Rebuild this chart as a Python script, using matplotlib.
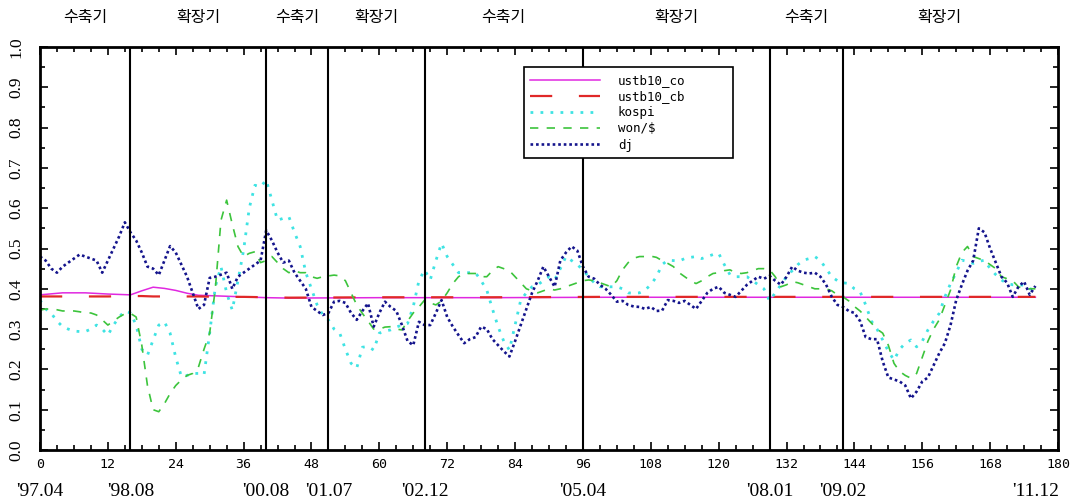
import matplotlib
matplotlib.use("Agg")
import matplotlib.pyplot as plt
from matplotlib.ticker import MultipleLocator
import matplotlib.transforms as mtransforms

# Monthly correlation coefficients, '97.04 (month 0) to '11.12 (month 176)
months = list(range(177))

dj = [
    0.48, 0.47, 0.45, 0.44, 0.455, 0.465, 0.475, 0.485, 0.48, 0.475,
    0.47, 0.44, 0.47, 0.50, 0.53, 0.565, 0.54, 0.52, 0.49, 0.455,
    0.45, 0.434, 0.47, 0.506, 0.49, 0.46, 0.43, 0.39, 0.35, 0.36,
    0.427, 0.43, 0.435, 0.44, 0.40, 0.43, 0.44, 0.45, 0.46, 0.47,
    0.545, 0.52, 0.49, 0.465, 0.47, 0.44, 0.42, 0.40, 0.355, 0.345,
    0.335, 0.34, 0.368, 0.37, 0.365, 0.34, 0.323, 0.345, 0.364, 0.306,
    0.34, 0.368, 0.355, 0.345, 0.31, 0.27, 0.26, 0.318, 0.31, 0.31,
    0.34, 0.372, 0.33, 0.306, 0.285, 0.265, 0.275, 0.28, 0.306, 0.30,
    0.275, 0.26, 0.245, 0.232, 0.27, 0.31, 0.35, 0.39, 0.42, 0.455,
    0.43, 0.405, 0.47, 0.49, 0.505, 0.495, 0.455, 0.43, 0.425, 0.41,
    0.40, 0.385, 0.368, 0.37, 0.36, 0.356, 0.355, 0.35, 0.355, 0.345,
    0.346, 0.372, 0.37, 0.365, 0.37, 0.36, 0.35, 0.37, 0.39, 0.40,
    0.405, 0.39, 0.385, 0.38, 0.395, 0.41, 0.42, 0.43, 0.425, 0.432,
    0.42, 0.41, 0.43, 0.455, 0.445, 0.44, 0.438, 0.44, 0.43, 0.41,
    0.38, 0.36, 0.355, 0.345, 0.34, 0.32, 0.28, 0.275, 0.275, 0.22,
    0.18, 0.175, 0.17, 0.16, 0.128, 0.145, 0.17, 0.18, 0.21, 0.24,
    0.265, 0.31, 0.372, 0.41, 0.445, 0.47, 0.55, 0.54, 0.50, 0.465,
    0.43, 0.415, 0.38, 0.405, 0.418, 0.385, 0.407,
]

kospi = [
    0.372, 0.35, 0.339, 0.32, 0.306, 0.30, 0.295, 0.294, 0.294, 0.30,
    0.31, 0.30, 0.285, 0.31, 0.33, 0.345, 0.34, 0.31, 0.25, 0.235,
    0.273, 0.31, 0.318, 0.29, 0.23, 0.182, 0.185, 0.19, 0.19, 0.186,
    0.29, 0.405, 0.455, 0.39, 0.347, 0.42, 0.496, 0.60, 0.657, 0.653,
    0.67, 0.62, 0.57, 0.575, 0.579, 0.54, 0.505, 0.44, 0.40, 0.36,
    0.335, 0.323, 0.30, 0.29, 0.25, 0.215, 0.203, 0.255, 0.257, 0.248,
    0.29, 0.295, 0.298, 0.305, 0.31, 0.314, 0.356, 0.42, 0.447, 0.422,
    0.47, 0.513, 0.48, 0.46, 0.44, 0.44, 0.44, 0.44, 0.42, 0.397,
    0.35, 0.306, 0.27, 0.248, 0.31, 0.372, 0.39, 0.405, 0.41, 0.42,
    0.43, 0.422, 0.45, 0.48, 0.47, 0.46, 0.447, 0.43, 0.415, 0.405,
    0.405, 0.405, 0.405, 0.40, 0.39, 0.389, 0.39, 0.397, 0.41, 0.43,
    0.46, 0.471, 0.47, 0.469, 0.475, 0.478, 0.48, 0.475, 0.48, 0.485,
    0.488, 0.46, 0.435, 0.43, 0.43, 0.43, 0.42, 0.41, 0.40, 0.37,
    0.39, 0.41, 0.43, 0.445, 0.46, 0.471, 0.475, 0.48, 0.47, 0.45,
    0.43, 0.42, 0.415, 0.413, 0.40, 0.393, 0.36, 0.32, 0.30, 0.273,
    0.245, 0.223, 0.25, 0.265, 0.273, 0.256, 0.27, 0.298, 0.32, 0.339,
    0.38, 0.413, 0.44, 0.471, 0.468, 0.463, 0.468, 0.471, 0.45, 0.435,
    0.422, 0.413, 0.41, 0.41, 0.409, 0.40, 0.397,
]

won = [
    0.347, 0.35, 0.35, 0.348, 0.345, 0.345, 0.345, 0.343, 0.34, 0.34,
    0.335, 0.323, 0.31, 0.32, 0.33, 0.338, 0.339, 0.33, 0.26, 0.16,
    0.10, 0.095, 0.115, 0.14, 0.16, 0.174, 0.185, 0.19, 0.205, 0.25,
    0.29, 0.40, 0.57, 0.62, 0.56, 0.505, 0.48, 0.488, 0.492, 0.465,
    0.47, 0.48, 0.465, 0.45, 0.44, 0.445, 0.44, 0.44, 0.43, 0.426,
    0.43, 0.432, 0.434, 0.432, 0.42, 0.39, 0.36, 0.339, 0.32, 0.30,
    0.30, 0.305, 0.306, 0.30, 0.298, 0.32, 0.34, 0.355, 0.372, 0.365,
    0.36, 0.37, 0.39, 0.413, 0.43, 0.438, 0.438, 0.438, 0.43, 0.43,
    0.445, 0.455, 0.45, 0.445, 0.43, 0.415, 0.40, 0.395, 0.39, 0.395,
    0.40, 0.397, 0.40, 0.405, 0.41, 0.415, 0.42, 0.422, 0.42, 0.415,
    0.41, 0.405, 0.42, 0.447, 0.465, 0.476, 0.48, 0.48, 0.481, 0.478,
    0.47, 0.463, 0.455, 0.44, 0.43, 0.42, 0.413, 0.42, 0.43, 0.438,
    0.44, 0.445, 0.447, 0.44, 0.438, 0.44, 0.445, 0.45, 0.45, 0.447,
    0.43, 0.405, 0.41, 0.418, 0.415, 0.41, 0.405, 0.40, 0.40, 0.40,
    0.395, 0.385, 0.38, 0.37, 0.356, 0.345, 0.33, 0.315, 0.30, 0.29,
    0.26, 0.215, 0.195, 0.185, 0.178, 0.19, 0.23, 0.27, 0.30, 0.323,
    0.36, 0.397, 0.455, 0.49, 0.505, 0.48, 0.475, 0.47, 0.46, 0.45,
    0.43, 0.425, 0.42, 0.405, 0.40, 0.40, 0.40,
]

# Bond-yield series (nearly flat); read at coarser intervals
bond_months = [0, 4, 8, 12, 16, 18, 20, 22, 24, 26, 28, 32, 36, 40, 44,
               60, 80, 100, 120, 140, 160, 176]
ustb10_co = [0.385, 0.39, 0.39, 0.387, 0.385, 0.395, 0.404, 0.401, 0.396,
             0.389, 0.384, 0.382, 0.38, 0.378, 0.377, 0.378, 0.378, 0.379,
             0.379, 0.379, 0.379, 0.379]
ustb10_cb = [0.381, 0.381, 0.381, 0.381, 0.382, 0.382, 0.381, 0.381, 0.381,
             0.381, 0.381, 0.38, 0.38, 0.379, 0.378, 0.379, 0.379, 0.38,
             0.38, 0.38, 0.38, 0.38]

# Business-cycle turning points and their dates
turn_months = [16, 40, 51, 68, 96, 129, 142]
date_months = [0, 16, 40, 51, 68, 96, 129, 142, 176]
date_labels = ["'97.04", "'98.08", "'00.08", "'01.07", "'02.12",
               "'05.04", "'08.01", "'09.02", "'11.12"]
phase_labels = ["수축기", "확장기", "수축기", "확장기",
                "수축기", "확장기", "수축기", "확장기"]

fig = plt.figure(figsize=(10.85, 5.03), dpi=100)
ax = fig.add_axes([40 / 1085, 53 / 503, 1018 / 1085, 403 / 503])

ax.plot(bond_months, ustb10_co, color="#e028e0", lw=1.1, label="ustb10_co")
ax.plot(bond_months, ustb10_cb, color="#e02828", lw=1.6,
        linestyle=(0, (10, 12)), label="ustb10_cb")
ax.plot(months, kospi, color="#3fe3e3", lw=2.0,
        linestyle=(0, (1, 2.6)), label="kospi")
ax.plot(months, won, color="#3cc43c", lw=1.2,
        linestyle=(0, (5, 5)), label=r"won/\$")
ax.plot(months, dj, color="#14148c", lw=1.9,
        linestyle=(0, (1, 1.1)), label="dj")

for m in turn_months:
    ax.axvline(m, color="black", lw=1.5, zorder=5)

ax.set_xlim(0, 180)
ax.set_ylim(0, 1.0)
ax.xaxis.set_major_locator(MultipleLocator(12))
ax.xaxis.set_minor_locator(MultipleLocator(3))
ax.yaxis.set_major_locator(MultipleLocator(0.1))
ax.yaxis.set_minor_locator(MultipleLocator(0.05))
ax.tick_params(which="both", direction="in", top=True, right=True,
               width=1.2, colors="black")
ax.tick_params(which="major", length=6)
ax.tick_params(which="minor", length=3.5)
ax.tick_params(axis="x", which="major", pad=6)
ax.tick_params(axis="y", which="major", pad=11)

for sp in ax.spines.values():
    sp.set_linewidth(2)

ax.set_xticks(range(0, 181, 12))
ax.set_xticklabels([str(v) for v in range(0, 181, 12)],
                   family="DejaVu Sans Mono", fontsize=9.5)
yt = [i / 10 for i in range(11)]
ax.set_yticks(yt)
ax.set_yticklabels([f"{v:.1f}" for v in yt], family="Liberation Serif",
                   fontsize=12.5, rotation=90, va="center")

trans = mtransforms.blended_transform_factory(ax.transData, ax.transAxes)
for m, lab in zip(date_months, date_labels):
    ax.text(m, -0.102, lab, transform=trans, ha="center", va="center",
            family="Liberation Serif", fontsize=14, clip_on=False)

bounds = [0] + turn_months + [176]
for i, lab in enumerate(phase_labels):
    mid = (bounds[i] + bounds[i + 1]) / 2
    ax.text(mid, 1.072, lab, transform=trans, ha="center", va="center",
            family=["Noto Sans CJK KR", "DejaVu Sans"], fontsize=11.5,
            clip_on=False)

leg = ax.legend(loc="upper left", bbox_to_anchor=(0.475, 0.749, 0.206, 0.201),
                mode="expand", borderaxespad=0, frameon=True, fancybox=False,
                edgecolor="black", framealpha=1, handlelength=5.6,
                handletextpad=1.4, labelspacing=0.25, borderpad=0.55,
                prop={"family": "DejaVu Sans Mono", "size": 9})
leg.get_frame().set_linewidth(1.2)
leg.set_zorder(10)

fig.savefig("out.png", dpi=100)
